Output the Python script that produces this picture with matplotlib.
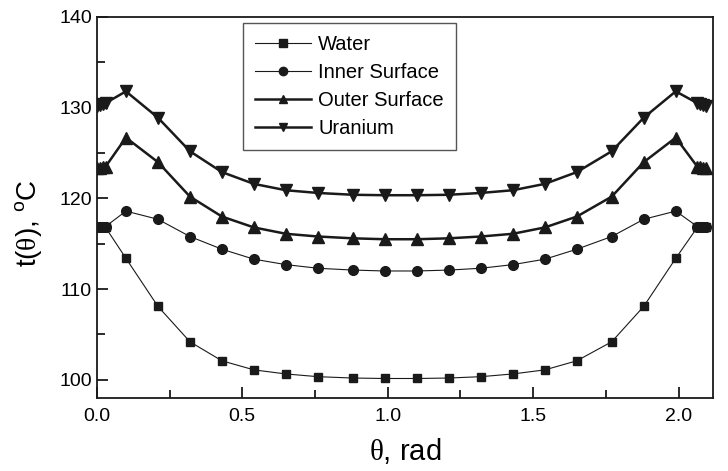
import matplotlib.pyplot as plt

plt.rcParams['font.family'] = ['Liberation Sans', 'DejaVu Sans']
plt.rcParams['mathtext.fontset'] = 'custom'
plt.rcParams['mathtext.rm'] = 'Liberation Sans'
plt.rcParams['mathtext.sf'] = 'Liberation Serif'

# angle, rad
theta = [0.0, 0.01, 0.02, 0.03,
         0.10, 0.21, 0.32, 0.43, 0.54, 0.65, 0.76, 0.88, 0.99,
         1.10, 1.21, 1.32, 1.43, 1.54, 1.65, 1.77, 1.88, 1.99,
         2.064, 2.074, 2.084, 2.094]

water = [116.9, 116.9, 116.8, 116.8,
         113.4, 108.1, 104.2, 102.1, 101.1, 100.65, 100.35, 100.2, 100.15,
         100.15, 100.2, 100.35, 100.65, 101.1, 102.1, 104.2, 108.1, 113.4,
         116.8, 116.8, 116.9, 116.9]
inner = [116.8, 116.8, 116.8, 116.9,
         118.6, 117.7, 115.8, 114.4, 113.3, 112.7, 112.3, 112.1, 112.0,
         112.0, 112.1, 112.3, 112.7, 113.3, 114.4, 115.8, 117.7, 118.6,
         116.9, 116.8, 116.8, 116.8]
outer = [123.4, 123.4, 123.5, 123.5,
         126.7, 124.0, 120.2, 118.0, 116.8, 116.1, 115.8, 115.6, 115.5,
         115.5, 115.6, 115.8, 116.1, 116.8, 118.0, 120.2, 124.0, 126.7,
         123.5, 123.5, 123.4, 123.4]
uranium = [130.2, 130.3, 130.4, 130.5,
           131.8, 128.9, 125.2, 122.9, 121.6, 120.9, 120.6, 120.4, 120.35,
           120.35, 120.4, 120.6, 120.9, 121.6, 122.9, 125.2, 128.9, 131.8,
           130.5, 130.4, 130.3, 130.2]

fig = plt.figure(figsize=(7.28, 4.71), dpi=100)
ax = fig.add_axes([0.133, 0.155, 0.846, 0.809])

c = '#1a1a1a'
ax.plot(theta, water, '-s', color=c, lw=0.8, ms=6, label='Water')
ax.plot(theta, inner, '-o', color=c, lw=0.8, ms=7, label='Inner Surface')
ax.plot(theta, outer, '-^', color=c, lw=1.8, ms=8, label='Outer Surface')
ax.plot(theta, uranium, '-v', color=c, lw=1.8, ms=8, label='Uranium')

ax.set_xlim(0, 2.117)
ax.set_ylim(98, 140)
ax.set_xticks([0.0, 0.5, 1.0, 1.5, 2.0])
ax.set_xticks([0.25, 0.75, 1.25, 1.75], minor=True)
ax.set_yticks([100, 110, 120, 130, 140])
ax.set_yticks([105, 115, 125, 135], minor=True)
ax.xaxis.set_major_formatter(plt.FormatStrFormatter('%.1f'))
ax.tick_params(which='both', direction='in', labelsize=14, width=1.3, color=c)
ax.tick_params(which='major', length=8)
ax.tick_params(which='minor', length=6)
ax.tick_params(axis='x', pad=7)
for s in ax.spines.values():
    s.set_linewidth(1.3)
    s.set_color(c)

ax.set_xlabel(r'$\mathsf{\theta}$, rad', fontsize=21, labelpad=8)
ax.set_ylabel(r't($\mathsf{\theta}$), $^{\rm o}$C', fontsize=20)
ax.yaxis.set_label_coords(-0.084, 0.46)

leg = ax.legend(loc='upper left', bbox_to_anchor=(0.237, 0.984), borderaxespad=0,
                fontsize=14.5, handlelength=2.8, handletextpad=0.35,
                labelspacing=0.45, borderpad=0.6, fancybox=False, framealpha=1)
leg.get_frame().set_edgecolor('#555555')
leg.get_frame().set_linewidth(1.0)
for h in leg.legend_handles:
    h.set_markersize(6)

fig.savefig('out.png', dpi=100)
